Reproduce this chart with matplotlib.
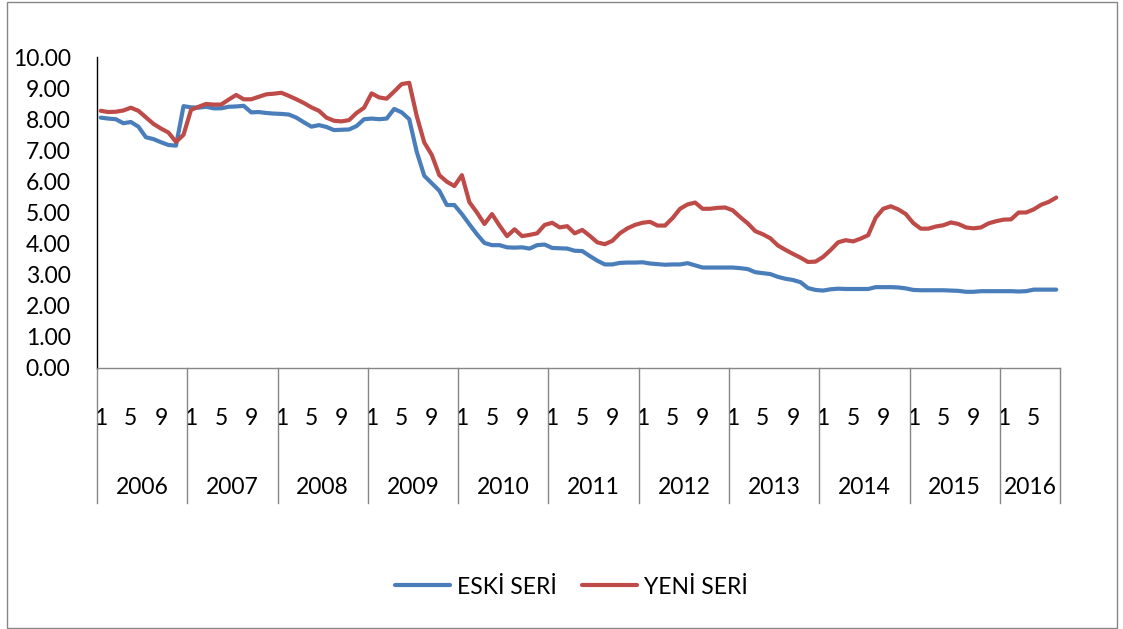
import matplotlib
matplotlib.use("Agg")
import matplotlib.pyplot as plt
import matplotlib.transforms as mtransforms
from matplotlib.patches import Rectangle
import numpy as np

plt.rcParams['font.family'] = ['Lato', 'DejaVu Sans']

years = ['2006', '2007', '2008', '2009', '2010', '2011', '2012', '2013', '2014', '2015', '2016']
months_per_year = [12, 12, 12, 12, 12, 12, 12, 12, 12, 12, 8]
month_ticks = [1, 5, 9]

eski = [
    8.05, 8.02, 8.00, 7.87, 7.91, 7.76, 7.42, 7.36, 7.26, 7.17, 7.15, 8.42,
    8.38, 8.37, 8.40, 8.35, 8.35, 8.40, 8.41, 8.43, 8.22, 8.23, 8.20, 8.18,
    8.17, 8.15, 8.05, 7.90, 7.76, 7.81, 7.75, 7.65, 7.66, 7.67, 7.78, 8.00,
    8.02, 8.00, 8.02, 8.33, 8.22, 8.00, 6.95, 6.18, 5.94, 5.70, 5.24, 5.24,
    4.95, 4.62, 4.30, 4.02, 3.95, 3.95, 3.88, 3.87, 3.88, 3.84, 3.95, 3.97,
    3.86, 3.85, 3.84, 3.77, 3.76, 3.60, 3.45, 3.33, 3.33, 3.38, 3.39, 3.39,
    3.40, 3.36, 3.34, 3.32, 3.33, 3.33, 3.37, 3.30, 3.23, 3.23, 3.23, 3.23,
    3.23, 3.21, 3.18, 3.08, 3.05, 3.02, 2.93, 2.87, 2.83, 2.76, 2.57, 2.51,
    2.49, 2.53, 2.55, 2.54, 2.54, 2.54, 2.54, 2.60, 2.60, 2.60, 2.59, 2.56,
    2.51, 2.50, 2.50, 2.50, 2.50, 2.49, 2.48, 2.45, 2.45, 2.47, 2.47, 2.47,
    2.47, 2.47, 2.46, 2.47, 2.52, 2.52, 2.52, 2.52,
]

yeni = [
    8.27, 8.23, 8.24, 8.28, 8.37, 8.27, 8.06, 7.85, 7.70, 7.57, 7.27, 7.50,
    8.30, 8.40, 8.49, 8.47, 8.47, 8.63, 8.78, 8.64, 8.64, 8.72, 8.80, 8.82,
    8.85, 8.75, 8.64, 8.52, 8.38, 8.27, 8.05, 7.95, 7.93, 7.97, 8.20, 8.37,
    8.83, 8.70, 8.66, 8.89, 9.13, 9.17, 8.10, 7.25, 6.85, 6.20, 5.99, 5.85,
    6.20, 5.33, 5.00, 4.63, 4.95, 4.58, 4.24, 4.46, 4.24, 4.28, 4.33, 4.60,
    4.67, 4.52, 4.56, 4.33, 4.44, 4.25, 4.04, 3.98, 4.09, 4.33, 4.49, 4.60,
    4.67, 4.70, 4.58, 4.58, 4.82, 5.12, 5.26, 5.32, 5.12, 5.12, 5.15, 5.16,
    5.07, 4.85, 4.65, 4.40, 4.30, 4.17, 3.94, 3.80, 3.67, 3.55, 3.41, 3.42,
    3.57, 3.79, 4.04, 4.11, 4.07, 4.16, 4.27, 4.83, 5.12, 5.20, 5.10, 4.95,
    4.66, 4.48, 4.48, 4.55, 4.59, 4.68, 4.63, 4.52, 4.49, 4.52, 4.65, 4.72,
    4.77, 4.78, 5.00, 5.00, 5.10, 5.25, 5.34, 5.48,
]

series_names = ['ESKİ SERİ', 'YENİ SERİ']
colors = ['#4A7EBB', '#BE4B48']

FS = 16.5
W, H = 1123, 629
fig = plt.figure(figsize=(W / 100, H / 100), dpi=100)
L, R, T, B = 97, 1060, 57, 368
ax = fig.add_axes([L / W, 1 - B / H, (R - L) / W, (B - T) / H])

x = np.arange(len(eski))
ax.plot(x, eski, color=colors[0], lw=3.0, solid_joinstyle='round', solid_capstyle='round', label=series_names[0])
ax.plot(x, yeni, color=colors[1], lw=3.0, solid_joinstyle='round', solid_capstyle='round', label=series_names[1])

ax.set_xlim(-0.5, len(eski) - 0.5)
ax.set_ylim(0, 10)
ax.set_yticks(np.arange(0, 10.01, 1))
ax.set_yticklabels([f'{v:.2f}' for v in np.arange(0, 10.01, 1)])
ax.tick_params(axis='y', length=0, pad=19, labelsize=FS)

# month ticks
tick_pos, tick_lab = [], []
start = 0
bounds = [0]
for yr, n in zip(years, months_per_year):
    for m in month_ticks:
        if m <= n:
            tick_pos.append(start + m - 1)
            tick_lab.append(str(m))
    start += n
    bounds.append(start)
ax.set_xticks(tick_pos)
ax.set_xticklabels(tick_lab)
ax.tick_params(axis='x', length=0, pad=29, labelsize=FS)

for s in ['top', 'right']:
    ax.spines[s].set_visible(False)
ax.spines['left'].set_color('black')
ax.spines['left'].set_linewidth(1.0)
ax.spines['bottom'].set_color('#868686')
ax.spines['bottom'].set_linewidth(1.0)

trans = mtransforms.blended_transform_factory(ax.transData, ax.transAxes)
axh = B - T
for b in bounds:
    ax.plot([b - 0.5, b - 0.5], [0, -(503 - B) / axh], transform=trans,
            color='#868686', lw=1.0, clip_on=False)

start = 0
for yr, n in zip(years, months_per_year):
    ax.text(start + n / 2 - 0.5, -(487 - B) / axh, yr, transform=trans,
            ha='center', va='center', fontsize=FS)
    start += n

leg = fig.legend(loc='center', bbox_to_anchor=(0.509, 1 - 587 / H), ncol=2, frameon=False,
                 fontsize=FS, handlelength=2.4, columnspacing=1.1, handletextpad=0.3)

fig.patches.append(Rectangle((7 / W, 1 / H), (1117 - 7) / W, (627 - 1) / H,
                             transform=fig.transFigure, fill=False,
                             edgecolor='#868686', lw=1.0))

fig.savefig('out.png', dpi=100)
